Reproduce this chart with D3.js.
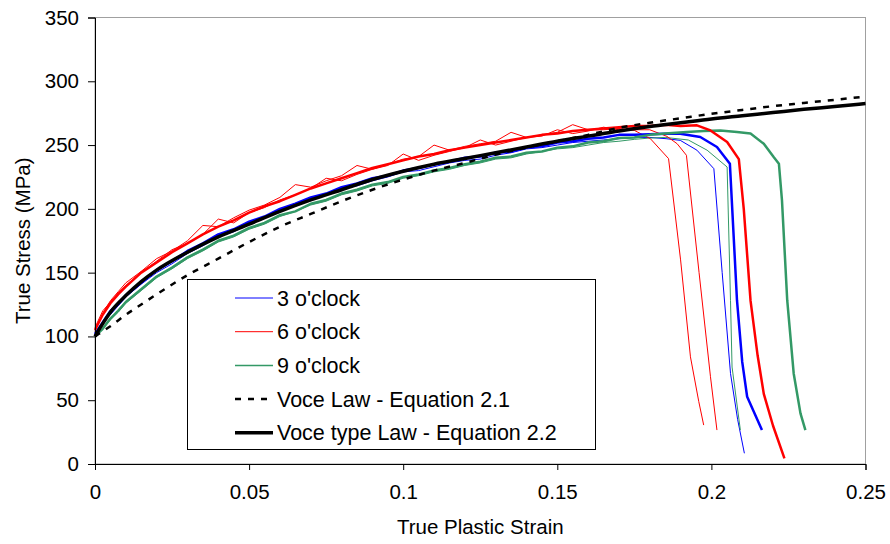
<!DOCTYPE html>
<html><head><meta charset="utf-8">
<script src="https://cdn.jsdelivr.net/npm/d3@7"></script>
<style>
body{margin:0;background:#fff;}
svg{display:block;font-family:"Liberation Sans",Arial,sans-serif;}
</style>
</head><body>
<svg id="chart" width="890" height="544"></svg>
<script>
// ---------- data ----------
const xTicks = [0, 0.05, 0.1, 0.15, 0.2, 0.25];
const yTicks = [0, 50, 100, 150, 200, 250, 300, 350];
const seriesNames = ["3 o'clock", "6 o'clock", "9 o'clock", "Voce Law - Equation 2.1", "Voce type Law - Equation 2.2"];

// model curves
const modelStrain = [0,0.0025,0.005,0.01,0.015,0.02,0.03,0.04,0.05,0.06,0.07,0.08,0.09,0.10,0.11,0.12,0.13,0.14,0.15,0.16,0.17,0.18,0.19,0.20,0.21,0.22,0.23,0.24,0.25];
const voceLaw     = [100,104,108,117,125,133,148,161,174,186,196,206,215,223,230,236,242.5,248,253,258,263.5,267.5,271,274.5,277.5,280.5,283,285.5,288];
const voceTypeLaw = [100,110,119,132,143,152,166,178,188,198,207,215,223,229.5,235,239.5,244,248.5,253,257,261,264.5,267.5,270.5,273,275.5,278,280.2,282.5];

// experimental curves (hardening part on common strain grid, then failure tail)
const strainGrid = [0,0.0025,0.005,0.0075,0.01,0.015,0.02,0.025,0.03,0.035,0.04,0.045,0.05,0.055,0.06,0.065,0.07,0.075,0.08,0.085,0.09,0.095,0.10,0.105,0.11,0.115,0.12,0.125,0.13,0.135,0.14,0.145,0.15,0.155,0.16,0.165,0.17,0.175];

const blueThin  = [101,111,117,124,131,141,150,157,165,171,178,182,188,193,199,202,207,211,216,218,222,225,229,230,233,236,238,239,242,244,247,248,250,252,253,254,255,256];
const blueThinTail  = [[0.18,256],[0.1853,255],[0.1899,253.7],[0.1953,246],[0.2008,231.5],[0.2035,150],[0.2062,71],[0.2085,35],[0.2107,8.4]];
const blueThick = [102,111,120,125,132,142,152,159,167,173,180,184,190,194,200,204,209,212,217,220,224,226,230,232,235,237,240,241,244,245,248,249,252,253,255,256,258,258];
const blueThickTail = [[0.18,258.5],[0.185,258.8],[0.1899,258.9],[0.1964,256.3],[0.2018,248.5],[0.2060,235.4],[0.2083,128.4],[0.2100,80],[0.2116,52.7],[0.2164,26.6]];

const redThin1  = [104,118,128,135,142,151,161,167,175,187,186,193,199,203,209,219,217,222,226,234,231,235,239,241,250,246,249,251,253,260,256,258,260,266,262,262,263,261.5];
const redThin1Tail  = [[0.1802,255],[0.1861,239.4],[0.1900,160],[0.1932,84],[0.1959,49],[0.1975,30.5]];
const redThin2  = [107,120,127,134,140,150,159,168,173,180,192,189,197,201,207,211,216,224,222,227,231,234,243,238,242,245,248,254,250,253,256,257,262,259,261,264,262,262];
const redThin2Tail  = [[0.18,262],[0.1856,256.8],[0.1889,251],[0.1919,242],[0.1960,150],[0.1997,68.4],[0.2018,26.6]];
const redThick  = [105,117,126,133,139,150,158,166,173,180,186,191,197,202,206,211,216,220,224,228,232,235,238,241,243,246,248,250,252,254,256,258,259,261,262,263,264,265];
const redThickTail  = [[0.18,265],[0.185,266],[0.19,265],[0.1953,265.5],[0.1997,261.5],[0.2051,252.4],[0.2089,239],[0.2105,200],[0.2127,128],[0.2150,85],[0.2170,55],[0.2200,30],[0.2237,4.4]];

const greenThin = [99,106,113,119,126,136,146,153,161,167,174,178,184,188,194,198,203,206,211,214,218,220,224,226,229,231,234,236,239,240,243,245,247,248,250,252,253,254.5];
const greenThinTail = [[0.18,255.5],[0.185,256],[0.1925,254],[0.1986,246],[0.2051,232.8],[0.2062,128],[0.2067,76],[0.2094,26.6]];
const greenThick = [100,106,114,120,127,137,147,154,162,168,175,179,185,189,195,198,204,207,212,215,219,221,225,227,230,232,235,237,240,241,244,245,248,249,252,253,255.5,256];
const greenThickTail = [[0.18,258],[0.185,259],[0.192,260.2],[0.1975,261],[0.2029,261.5],[0.2083,260.2],[0.2127,259],[0.217,251],[0.2202,240.6],[0.2219,235.4],[0.2229,206.7],[0.2246,128.4],[0.2267,71],[0.2289,39.7],[0.2305,26.6]];

// ---------- drawing ----------
const colors = {blue:"#0000ff", red:"#ff0000", green:"#339966"};
const svg = d3.select("#chart");
const W = 890, H = 544;
const m = {left:95, right:24.5, top:17.5, bottom:80};
const x = d3.scaleLinear().domain([0,0.25]).range([m.left, W - m.right]);
const y = d3.scaleLinear().domain([0,350]).range([H - m.bottom, m.top]);

// plot area border (grey, top & right)
svg.append("rect")
  .attr("x", x(0)).attr("y", y(350))
  .attr("width", x(0.25)-x(0)).attr("height", y(0)-y(350))
  .attr("fill","none").attr("stroke","#a0a0a0").attr("stroke-width",1);

const build = (arr, tail) => strainGrid.map((s,i)=>[s,arr[i]]).concat(tail);
const lineGen = d3.line().x(d=>x(d[0])).y(d=>y(d[1]));
const smooth = d3.line().x(d=>x(d[0])).y(d=>y(d[1])).curve(d3.curveMonotoneX);

const exp = [
  {pts:build(blueThin,blueThinTail), c:colors.blue, w:1},
  {pts:build(greenThin,greenThinTail), c:colors.green, w:1},
  {pts:build(redThin1,redThin1Tail), c:colors.red, w:1},
  {pts:build(redThin2,redThin2Tail), c:colors.red, w:1},
  {pts:build(blueThick,blueThickTail), c:colors.blue, w:2.5},
  {pts:build(greenThick,greenThickTail), c:colors.green, w:2.5},
  {pts:build(redThick,redThickTail), c:colors.red, w:2.5}
];
const g = svg.append("g");
exp.forEach(s=>{
  g.append("path").attr("d", lineGen(s.pts)).attr("fill","none")
    .attr("stroke", s.c).attr("stroke-width", s.w).attr("stroke-linejoin","round");
});

g.append("path").attr("d", smooth(modelStrain.map((s,i)=>[s,voceLaw[i]])))
  .attr("fill","none").attr("stroke","#000").attr("stroke-width",2.5).attr("stroke-dasharray","6,7");
g.append("path").attr("d", smooth(modelStrain.map((s,i)=>[s,voceTypeLaw[i]])))
  .attr("fill","none").attr("stroke","#000").attr("stroke-width",3.5);

// axes
const fs = 20.5;
const xAxis = svg.append("g").attr("transform",`translate(0,${y(0)})`)
  .call(d3.axisBottom(x).tickValues(xTicks).tickFormat(d=>String(d)).tickSize(6).tickPadding(14));
const yAxis = svg.append("g").attr("transform",`translate(${x(0)},0)`)
  .call(d3.axisLeft(y).tickValues(yTicks).tickFormat(d=>String(d)).tickSize(7).tickPadding(9));
[xAxis,yAxis].forEach(a=>{
  a.select(".domain").attr("stroke","#000").attr("stroke-width",1);
  a.selectAll(".tick line").attr("stroke","#000");
  a.selectAll(".tick text").attr("fill","#000").attr("font-size",fs).attr("font-family",'"Liberation Sans",Arial,sans-serif');
});

svg.append("text").attr("x",(x(0)+x(0.25))/2).attr("y",534).attr("text-anchor","middle")
  .attr("font-size",fs).text("True Plastic Strain");
svg.append("text").attr("transform",`translate(30,${(y(0)+y(350))/2}) rotate(-90)`)
  .attr("text-anchor","middle").attr("font-size",fs).text("True Stress (MPa)");

// legend
const lg = svg.append("g");
lg.append("rect").attr("x",187.5).attr("y",279.5).attr("width",408).attr("height",170)
  .attr("fill","#fff").attr("stroke","#000").attr("stroke-width",1);
const legendItems = [
  {c:colors.blue, w:1, dash:null},
  {c:colors.red, w:1, dash:null},
  {c:colors.green, w:1.5, dash:null},
  {c:"#000", w:2.5, dash:"6,7"},
  {c:"#000", w:3.5, dash:null}
];
legendItems.forEach((it,i)=>{
  const yy = 298 + i*33.7;
  lg.append("line").attr("x1",235).attr("x2",273).attr("y1",yy).attr("y2",yy)
    .attr("stroke",it.c).attr("stroke-width",it.w).attr("stroke-dasharray",it.dash);
  lg.append("text").attr("x",277).attr("y",yy).attr("dy","0.35em")
    .attr("font-size",21.5).text(seriesNames[i]);
});
</script>
</body></html>
